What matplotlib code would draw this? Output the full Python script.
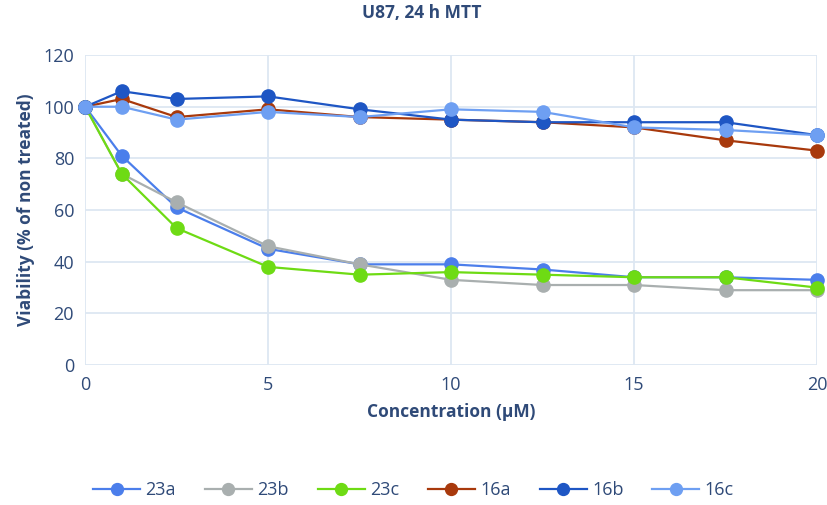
import matplotlib.pyplot as plt

conc = [0, 1, 2.5, 5, 7.5, 10, 12.5, 15, 17.5, 20]

v_23a = [100, 81, 61, 45, 39, 39, 37, 34, 34, 33]
v_23b = [100, 74, 63, 46, 39, 33, 31, 31, 29, 29]
v_23c = [100, 74, 53, 38, 35, 36, 35, 34, 34, 30]
v_16a = [100, 103, 96, 99, 96, 95, 94, 92, 87, 83]
v_16b = [100, 106, 103, 104, 99, 95, 94, 94, 94, 89]
v_16c = [100, 100, 95, 98, 96, 99, 98, 92, 91, 89]

names = ["23a", "23b", "23c", "16a", "16b", "16c"]
series = [v_23a, v_23b, v_23c, v_16a, v_16b, v_16c]
colors = ["#4B7EEB", "#A9AFAF", "#6EDB14", "#A8390C", "#1E56C4", "#6E9FF2"]

txt = "#2F4A78"
plt.rcParams['font.family'] = ['Open Sans', 'DejaVu Sans']

fig = plt.figure(figsize=(8.27, 5.05), dpi=100)
ax = fig.add_axes([0.103, 0.277, 0.885, 0.614])

for name, vals, c in zip(names, series, colors):
    ax.plot(conc, vals, color=c, lw=1.6, marker='o', ms=9.5, label=name, clip_on=False)

ax.set_xlim(0, 20)
ax.set_ylim(0, 120)
ax.set_xticks([0, 5, 10, 15, 20])
ax.set_yticks(range(0, 121, 20))
ax.grid(True, color="#DDE7F2", lw=1.3)
ax.set_axisbelow(True)
for s in ax.spines.values():
    s.set_visible(False)
ax.tick_params(length=0, labelsize=13, colors=txt, pad=8)

fig.text(0.51, 0.975, "U87, 24 h MTT", fontsize=12.5, fontweight='bold', color=txt,
         ha='center', va='center')
ax.set_xlabel("Concentration (µM)", fontsize=12.5, fontweight='bold', color=txt, labelpad=6)
ax.set_ylabel("Viability (% of non treated)", fontsize=12.5, fontweight='bold', color=txt, labelpad=6)

leg = fig.legend(loc='lower center', ncol=6, frameon=False, bbox_to_anchor=(0.5, -0.02),
                 fontsize=13, handlelength=2.6, handletextpad=0.3, columnspacing=1.6,
                 markerscale=0.9)
for t in leg.get_texts():
    t.set_color(txt)

fig.savefig("out.png", dpi=100)
